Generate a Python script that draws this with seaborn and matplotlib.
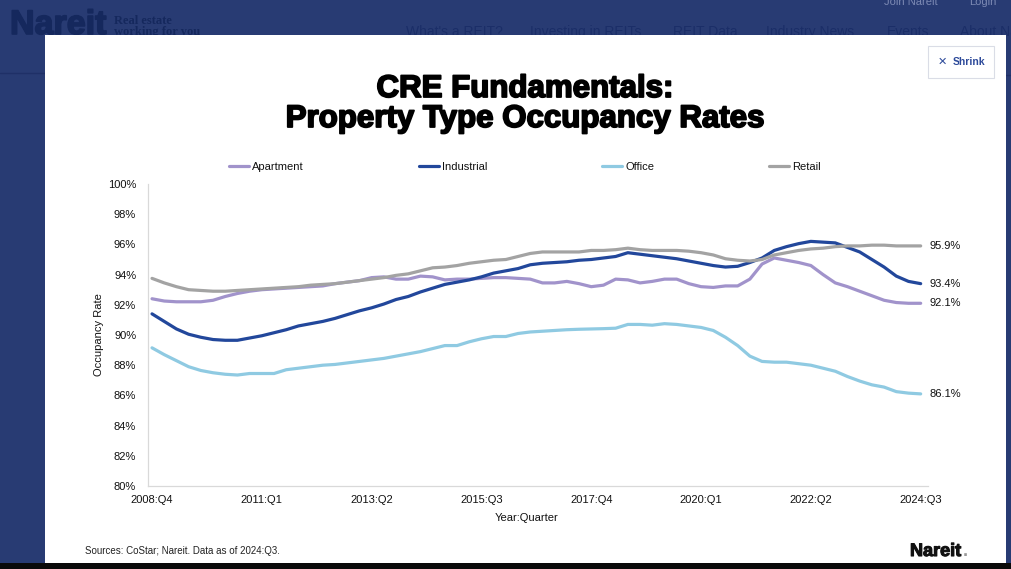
import numpy as np
import pandas as pd
import matplotlib
matplotlib.use("Agg")
import matplotlib.pyplot as plt
import matplotlib.patheffects as pe
from matplotlib.lines import Line2D
from matplotlib.patches import Rectangle
from matplotlib import font_manager
import seaborn as sns

# ---------------- data ----------------
years_q = []
for y in range(2008, 2025):
    for q in range(1, 5):
        if (y == 2008 and q < 4) or (y == 2024 and q > 3):
            continue
        years_q.append(f"{y}:Q{q}")

apartment = [92.4, 92.25, 92.2, 92.2, 92.2, 92.3, 92.55, 92.75, 92.9, 93.0,
             93.05, 93.1, 93.15, 93.2, 93.25, 93.4, 93.5, 93.6, 93.8, 93.85,
             93.7, 93.7, 93.9, 93.85, 93.65, 93.7, 93.7, 93.75, 93.8, 93.8,
             93.75, 93.7, 93.45, 93.45, 93.55, 93.4, 93.2, 93.3, 93.7, 93.65,
             93.45, 93.55, 93.7, 93.7, 93.4, 93.2, 93.15, 93.25, 93.25, 93.7,
             94.7, 95.1, 94.95, 94.8, 94.6, 94.0, 93.45, 93.2, 92.9, 92.6,
             92.3, 92.15, 92.1, 92.1]
industrial = [91.4, 90.9, 90.4, 90.05, 89.85, 89.7, 89.65, 89.65, 89.8, 89.95,
              90.15, 90.35, 90.6, 90.75, 90.9, 91.1, 91.35, 91.6, 91.8, 92.05,
              92.35, 92.55, 92.85, 93.1, 93.35, 93.5, 93.65, 93.85, 94.1, 94.25,
              94.4, 94.65, 94.75, 94.8, 94.85, 94.95, 95.0, 95.1, 95.2, 95.45,
              95.35, 95.25, 95.15, 95.05, 94.9, 94.75, 94.6, 94.5, 94.55, 94.8,
              95.1, 95.6, 95.85, 96.05, 96.2, 96.15, 96.1, 95.8, 95.5, 95.0,
              94.5, 93.9, 93.55, 93.4]
office = [89.15, 88.7, 88.3, 87.9, 87.65, 87.5, 87.4, 87.35, 87.45, 87.45,
          87.45, 87.7, 87.8, 87.9, 88.0, 88.05, 88.15, 88.25, 88.35, 88.45,
          88.6, 88.75, 88.9, 89.1, 89.3, 89.3, 89.55, 89.75, 89.9, 89.9,
          90.1, 90.2, 90.25, 90.3, 90.35, 90.38, 90.4, 90.42, 90.45, 90.7,
          90.7, 90.65, 90.75, 90.7, 90.6, 90.5, 90.3, 89.85, 89.3, 88.6,
          88.25, 88.2, 88.2, 88.1, 88.0, 87.8, 87.6, 87.25, 86.95, 86.7,
          86.55, 86.25, 86.15, 86.1]
retail = [93.75, 93.45, 93.2, 93.0, 92.95, 92.9, 92.9, 92.95, 93.0, 93.05,
          93.1, 93.15, 93.2, 93.3, 93.35, 93.4, 93.5, 93.6, 93.7, 93.8,
          93.95, 94.05, 94.25, 94.45, 94.5, 94.6, 94.75, 94.85, 94.95, 95.0,
          95.2, 95.4, 95.5, 95.5, 95.5, 95.5, 95.6, 95.6, 95.65, 95.75,
          95.65, 95.6, 95.6, 95.6, 95.55, 95.45, 95.3, 95.05, 94.95, 94.9,
          95.0, 95.3, 95.45, 95.6, 95.7, 95.75, 95.85, 95.9, 95.9, 95.95,
          95.95, 95.9, 95.9, 95.9]

series_names = ["Apartment", "Industrial", "Office", "Retail"]
series_values = [apartment, industrial, office, retail]
end_labels = ["92.1%", "93.4%", "86.1%", "95.9%"]
xtick_labels = ["2008:Q4", "2011:Q1", "2013:Q2", "2015:Q3",
                "2017:Q4", "2020:Q1", "2022:Q2", "2024:Q3"]
ytick_values = [80, 82, 84, 86, 88, 90, 92, 94, 96, 98, 100]

colors = {"Apartment": "#A193CB", "Industrial": "#22479B",
          "Office": "#8FCAE2", "Retail": "#A3A3A3"}

rows = []
for name, vals in zip(series_names, series_values):
    for i, v in enumerate(vals):
        rows.append({"idx": i, "quarter": years_q[i], "Type": name, "value": v})
df = pd.DataFrame(rows)

# ---------------- style ----------------
sns.set_style("white")
names = {f.name for f in font_manager.fontManager.ttflist}
narrow = "Liberation Sans Narrow" if "Liberation Sans Narrow" in names else "Liberation Sans"
plt.rcParams["font.family"] = ["Liberation Sans", "DejaVu Sans"]

W, H = 1011, 569
fig = plt.figure(figsize=(W / 100, H / 100), dpi=100)
fig.patch.set_facecolor("#283B73")

# background / page chrome in pixel coordinates
bg = fig.add_axes([0, 0, 1, 1], zorder=0)
bg.set_xlim(0, W)
bg.set_ylim(H, 0)
bg.axis("off")
navy_txt = "#15285D"
bg.text(10, 34, "Nareit", fontsize=24.5, fontweight="bold", color=navy_txt,
        ha="left", va="baseline", zorder=1,
        path_effects=[pe.withStroke(linewidth=1.2, foreground=navy_txt)])
bg.text(114, 24, "Real estate", fontsize=9, fontweight="bold", color=navy_txt,
        family="Liberation Serif", ha="left", va="baseline", zorder=1)
bg.text(114, 35, "working for you", fontsize=9, fontweight="bold", color=navy_txt,
        family="Liberation Serif", ha="left", va="baseline", zorder=1)
for label, x in [("What's a REIT?", 406), ("Investing in REITs", 530),
                 ("REIT Data", 673), ("Industry News", 766),
                 ("Events", 887), ("About Nareit", 960)]:
    bg.text(x, 35.5, label, fontsize=10, color="#1B2E68", ha="left",
            va="baseline", family=[narrow, "DejaVu Sans"], zorder=1)
bg.text(884, 4.5, "Join Nareit", fontsize=8, color="#7D8AB4", ha="left",
        va="baseline", zorder=1)
bg.text(969, 4.5, "Login", fontsize=8, color="#7D8AB4", ha="left",
        va="baseline", zorder=1)
bg.plot([0, 45], [73, 73], color="#1F3067", lw=1, zorder=1)
bg.plot([1006, 1011], [75, 75], color="#1F3067", lw=1, zorder=1)

# modal
bg.add_patch(Rectangle((45, 35), 961, 528, facecolor="white", edgecolor="none", zorder=2))
bg.add_patch(Rectangle((0, 563), W, 6, facecolor="#0A0A0A", edgecolor="none", zorder=3))
# shrink button
bg.add_patch(Rectangle((928, 46), 66, 32, facecolor="white", edgecolor="#DADDE6",
                       lw=0.8, zorder=3))
bg.text(942, 62, "✕", fontsize=8, fontweight="bold", color="#2D4A9A",
        ha="center", va="center", family="DejaVu Sans", zorder=4)
bg.text(953, 62, "Shrink", fontsize=7.5, fontweight="bold", color="#2D4A9A",
        ha="left", va="center", zorder=4)

# title
bg.text(525, 104, "CRE Fundamentals:\nProperty Type Occupancy Rates",
        fontsize=22.5, fontweight="bold", color="black", ha="center",
        va="center", linespacing=1.0, zorder=4,
        path_effects=[pe.withStroke(linewidth=1.3, foreground="black")])
# footer
bg.text(85, 551, "Sources: CoStar; Nareit. Data as of 2024:Q3.", fontsize=7,
        color="#222222", ha="left", va="center", zorder=4)
bg.text(910, 556, "Nareit", fontsize=13, fontweight="bold", color="#111111",
        ha="left", va="baseline", zorder=4,
        path_effects=[pe.withStroke(linewidth=0.8, foreground="#111111")])
bg.text(963, 556, ".", fontsize=13, fontweight="bold", color="#999999",
        ha="left", va="baseline", zorder=4)

# ---------------- chart ----------------
ax = fig.add_axes([148 / W, (H - 486) / H, 780 / W, 302 / H], zorder=5)
ax.patch.set_alpha(0)
sns.lineplot(data=df, x="idx", y="value", hue="Type", hue_order=series_names,
             palette=colors, linewidth=2.3, legend=False, ax=ax)
ax.set_xlim(-0.33, 63.6)
ax.set_ylim(80, 100)
ax.set_xticks([years_q.index(t) for t in xtick_labels])
ax.set_xticklabels(xtick_labels)
ax.set_yticks(ytick_values)
ax.set_yticklabels([f"{v}%" for v in ytick_values])
ax.tick_params(axis="both", length=0, labelsize=8, colors="#111111")
ax.tick_params(axis="x", pad=6.5)
ax.tick_params(axis="y", pad=8.5)
for s in ["top", "right"]:
    ax.spines[s].set_visible(False)
for s in ["left", "bottom"]:
    ax.spines[s].set_color("#D9D9D9")
    ax.spines[s].set_linewidth(0.9)
ax.set_xlabel("Year:Quarter", fontsize=8, color="#111111")
ax.set_ylabel("Occupancy Rate", fontsize=8, color="#111111")
ax.xaxis.set_label_coords((527 - 148) / 780, -0.088)
ax.yaxis.set_label_coords(-0.057, 0.5)
ax.grid(False)

for name, vals, lab in zip(series_names, series_values, end_labels):
    ax.annotate(lab, xy=(len(vals) - 1, vals[-1]), xytext=(6, 0),
                textcoords="offset points", ha="left", va="center",
                fontsize=8, color="#111111")

handles = [Line2D([0], [0], color=colors[n], lw=2.3) for n in series_names]
fig.legend(handles, series_names, loc="center", ncol=4, frameon=False,
           bbox_to_anchor=(525 / W, 1 - 167 / H), fontsize=8,
           handlelength=1.8, handletextpad=0.32, columnspacing=10.3,
           borderpad=0, labelcolor="#111111")

fig.savefig("out.png", dpi=100)
